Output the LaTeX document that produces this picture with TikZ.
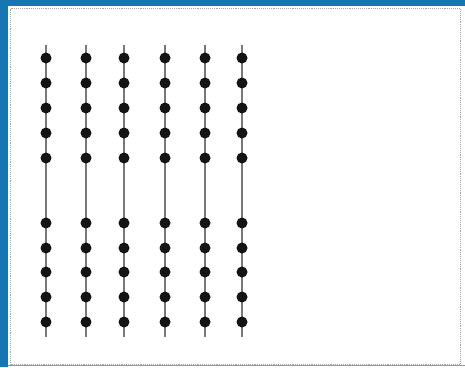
\documentclass[tikz,border=0pt]{standalone}
\usetikzlibrary{backgrounds}
\definecolor{frameblue}{RGB}{22,118,178}
\definecolor{wire}{RGB}{120,120,120}
\definecolor{dotc}{RGB}{20,20,20}
\tikzset{
  dotnode/.style={circle,fill=dotc,draw=none,minimum size=11pt,inner sep=0pt},
  wireline/.style={draw=wire,line width=1.3pt},
}
\begin{document}
\begin{tikzpicture}[x=1pt,y=-1pt]
\useasboundingbox (0,0) rectangle (465,367);
\foreach \c/\x in {1/46,2/86,3/124,4/165,5/205,6/242}{
  \coordinate (t\c) at (\x,45);
  \coordinate (b\c) at (\x,337);
  \foreach \r/\y in {1/58,2/83,3/108,4/133,5/158,6/223,7/248,8/272,9/297,10/322}{
    \node[dotnode] (n\c-\r) at (\x,\y) {};
  }
}
\begin{scope}[on background layer]
\fill[white] (0,0) rectangle (465,367);
\fill[frameblue] (0,0) rectangle (8,367);
\fill[frameblue] (0,0) rectangle (465,6);
\draw[gray!70,densely dotted,line width=0.9pt] (10.5,8.5) rectangle (460,364);
\draw[gray!80,line width=1pt] (8,365.5) -- (465,365.5);
\foreach \c in {1,...,6}{
  \draw[wireline] (t\c) -- (n\c-1.center);
  \foreach \r [evaluate=\r as \s using int(\r+1)] in {1,...,9}{
    \draw[wireline] (n\c-\r.center) -- (n\c-\s.center);
  }
  \draw[wireline] (n\c-10.center) -- (b\c);
}
\end{scope}
\end{tikzpicture}
\end{document}
